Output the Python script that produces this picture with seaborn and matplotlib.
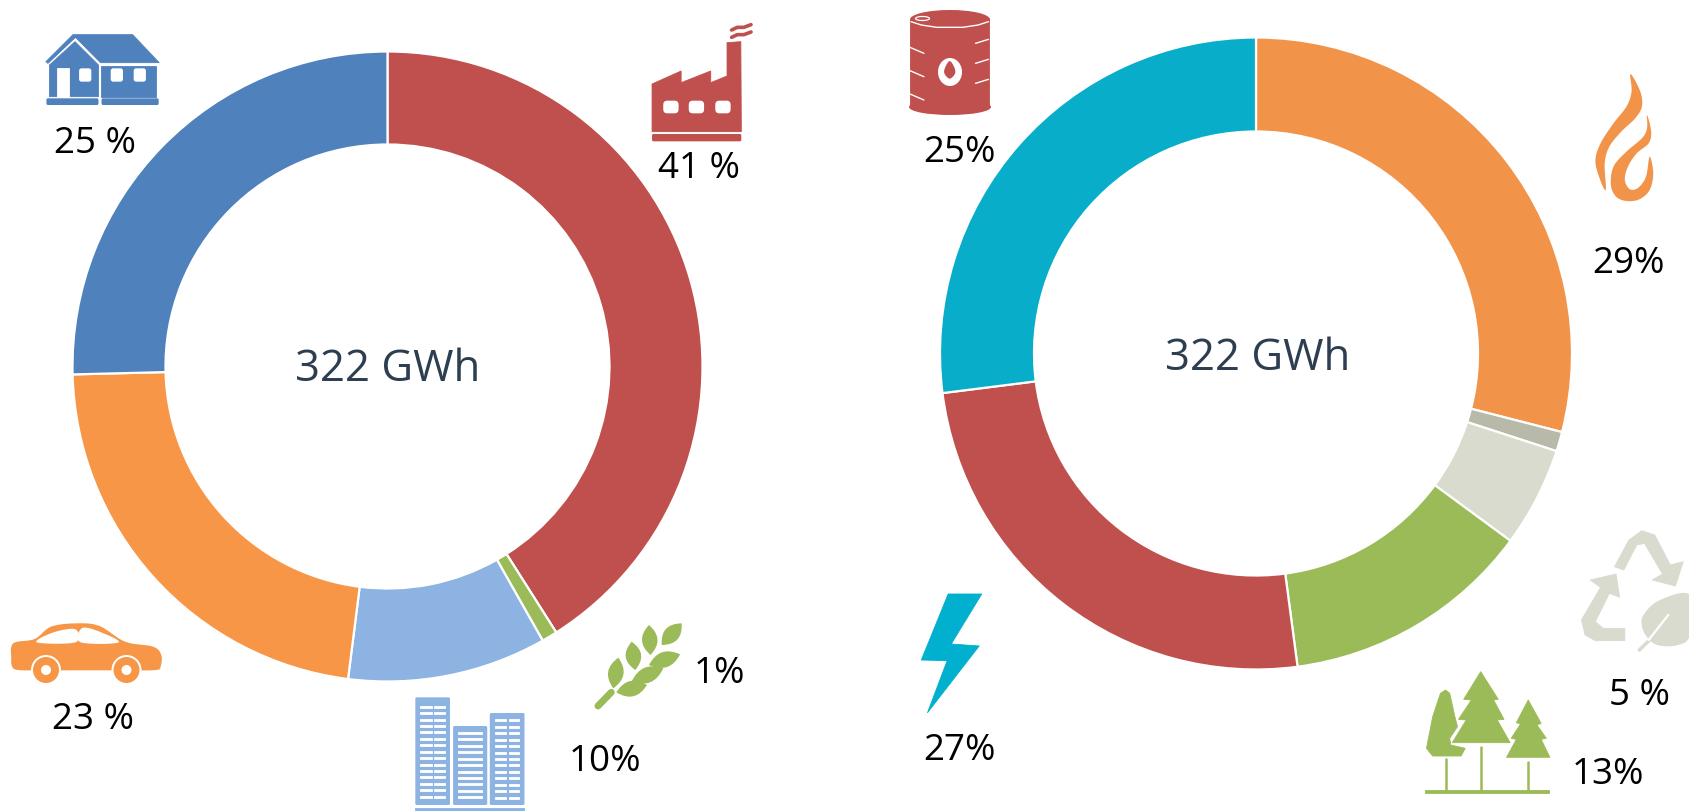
import numpy as np
import seaborn as sns
import matplotlib.pyplot as plt
from matplotlib.patches import Polygon, Circle, Ellipse, PathPatch, FancyBboxPatch
from matplotlib.path import Path

# demand side
demand_values = [41, 0.8, 10.2, 22.6, 25.4]
demand_colors = ['#C0504D', '#9BBB59', '#8DB3E2', '#F79646', '#4F81BD']
demand_labels = ['41 %', '1%', '10%', '23 %', '25 %']
# supply side
supply_values = [29, 1, 5.1, 12.8, 25.1, 27]
supply_colors = ['#F2934A', '#B9B9A9', '#D9DBCE', '#9BBB59', '#C0504D', '#07ADC9']
supply_labels = ['29%', '5 %', '13%', '27%', '25%']
total_label = '322 GWh'

W, H = 1690, 811
BLUE, RED, ORANGE, LBLUE, GREEN = '#4F81BD', '#C0504D', '#F79646', '#8DB3E2', '#9BBB59'
TEAL, SAND, FLAME = '#00B0CE', '#D9DBCE', '#F2934A'

sns.set_theme(style='white')
plt.rcParams['font.family'] = ['Open Sans', 'DejaVu Sans']
fig = plt.figure(figsize=(W / 100, H / 100), dpi=100)


def donut(values, colors, cx, cy, r, r_in):
    ax = fig.add_axes([(cx - r) / W, 1 - (cy + r) / H, 2 * r / W, 2 * r / H])
    ax.pie(values, colors=colors, startangle=90, counterclock=False, radius=1,
           wedgeprops=dict(width=1 - r_in / r, edgecolor='white', linewidth=1.6))
    ax.set_xlim(-1, 1)
    ax.set_ylim(-1, 1)
    ax.axis('off')


donut(demand_values, demand_colors, 387.5, 366.5, 315, 222)
donut(supply_values, supply_colors, 1256, 353.5, 316, 222)

# overlay in pixel coords for icons and labels
ov = fig.add_axes([0, 0, 1, 1])
ov.set_xlim(0, W)
ov.set_ylim(H, 0)
ov.axis('off')
ov.patch.set_alpha(0)

TL = (0, 0, 1.96)
BL = (0, 560, 1.96)
TR = (880, 0, 1.936)
BR = (880, 500, 1.936)


def px(pts, fr):
    return [(fr[0] + x / fr[2], fr[1] + y / 3) for x, y in pts]


def poly(pts, fr, color):
    ov.add_patch(Polygon(px(pts, fr), closed=True, fc=color, ec=color, lw=0.6, joinstyle='round'))


def box(x0, y0, x1, y1, fr, color):
    poly([(x0, y0), (x1, y0), (x1, y1), (x0, y1)], fr, color)


def rbox(x0, y0, x1, y1, fr, color, rad=2.5):
    (a, b), (c, d) = px([(x0, y0), (x1, y1)], fr)
    ov.add_patch(FancyBboxPatch((a, b), c - a, d - b, boxstyle=f'round,pad=0,rounding_size={rad}',
                                fc=color, ec='none'))


def smooth(pts, fr, color):
    # closed catmull-rom through the outline points, for the organic icons
    p = np.array(px(pts, fr))
    out = []
    n = len(p)
    for i in range(n):
        p0, p1, p2, p3 = p[i - 1], p[i], p[(i + 1) % n], p[(i + 2) % n]
        for t in np.linspace(0, 1, 8, endpoint=False):
            out.append(0.5 * (2 * p1 + (p2 - p0) * t + (2 * p0 - 5 * p1 + 4 * p2 - p3) * t ** 2
                              + (3 * p1 - p0 - 3 * p2 + p3) * t ** 3))
    ov.add_patch(Polygon(out, closed=True, fc=color, ec='none'))


def stroke(pts, fr, color, lw):
    p = np.array(px(pts, fr))
    ov.plot(p[:, 0], p[:, 1], color=color, lw=lw, solid_capstyle='round')


def leaf(a, b, fr, color, w=9):
    (ax_, ay), (bx, by) = px([a, b], fr)
    d = np.array([bx - ax_, by - ay])
    n = np.array([-d[1], d[0]]) / np.hypot(*d) * w * 1.3
    m = np.array([(ax_ + bx) / 2, (ay + by) / 2])
    verts = [(ax_, ay), tuple(m + n), (bx, by), tuple(m - n), (ax_, ay)]
    codes = [Path.MOVETO, Path.CURVE3, Path.CURVE3, Path.CURVE3, Path.CURVE3]
    ov.add_patch(PathPatch(Path(verts, codes), fc=color, ec='none'))


# house
poly([(90, 185), (143, 104), (260, 104), (312, 188), (197, 188), (148, 112), (94, 190)], TL, BLUE)
poly([(97, 290), (97, 195), (147, 125), (193, 195), (193, 290)], TL, BLUE)
box(198, 197, 306, 290, TL, BLUE)
box(112, 203, 135, 290, TL, 'white')
for x0 in (155, 217, 262):
    rbox(x0, 205, x0 + 24, 245, TL, 'white')
rbox(91, 295, 193, 315, TL, BLUE, 1.5)
rbox(199, 295, 311, 315, TL, BLUE, 1.5)

# factory
poly([(1278, 395), (1278, 252), (1335, 213), (1335, 248), (1393, 213), (1393, 248), (1425, 228),
      (1425, 128), (1452, 125), (1453, 395)], TL, RED)
for x0 in (1300, 1350, 1402):
    rbox(x0, 302, x0 + 30, 340, TL, 'white', 4)
rbox(1278, 402, 1453, 424, TL, RED, 1.5)
for y0 in (74, 96):
    stroke([(1434, y0 + 16), (1445, y0 + 8), (1458, y0 + 8), (1472, y0)], TL, RED, 2.6)

# car
smooth([(22, 295), (26, 250), (68, 237), (100, 200), (150, 190), (195, 198), (245, 245), (300, 260),
        (316, 285), (315, 318), (306, 330), (250, 331), (170, 331), (80, 331), (35, 330), (24, 320)], BL, ORANGE)
smooth([(72, 247), (105, 217), (148, 208), (148, 247)], BL, 'white')
smooth([(158, 247), (160, 205), (190, 212), (233, 247)], BL, 'white')
for wx in (46, 126.5):
    ov.add_patch(Circle((wx, 670), 15, fc='white', ec='none'))
    ov.add_patch(Circle((wx, 670), 13, fc=ORANGE, ec='none'))
    ov.add_patch(Circle((wx, 670), 5, fc='white', ec='none'))

# wheat
stroke([(1172, 438), (1198, 397)], BL, GREEN, 5)
for a, b in [((1202, 385), (1212, 293)), ((1245, 330), (1238, 245)), ((1275, 285), (1272, 195)),
             ((1297, 255), (1336, 190)), ((1272, 315), (1333, 283)), ((1238, 365), (1300, 325)),
             ((1208, 397), (1268, 375))]:
    leaf(a, b, BL, GREEN, w=12)

# buildings
rbox(814, 412, 882, 735, BL, LBLUE, 1.5)
rbox(888, 498, 955, 735, BL, LBLUE, 1.5)
rbox(960, 459, 1028, 735, BL, LBLUE, 1.5)
box(814, 743, 1028, 760, BL, LBLUE)
for y in np.arange(437, 715, 19.3):
    box(824, y, 846, y + 6, BL, 'white')
    box(851, y, 872, y + 6, BL, 'white')
for y in np.arange(478, 715, 19.3):
    box(970, y, 992, y + 6, BL, 'white')
    box(997, y, 1018, y + 6, BL, 'white')
for y in np.arange(516, 715, 19.3):
    box(898, y, 945, y + 6, BL, 'white')

# barrel
box(58, 58, 211, 320, TR, RED)
ov.add_patch(Ellipse((950, 107), 82, 16, fc=RED, ec='none'))
ov.add_patch(Ellipse((950, 19.5), 80, 19, fc=RED, ec='none'))
stroke([(60, 65), (80, 75), (110, 82), (160, 82), (190, 75), (210, 65)], TR, 'white', 1.0)
ov.add_patch(Ellipse((922.5, 18.5), 14, 4, fc='none', ec='white', lw=0.9))
for y in (142, 212, 282):
    stroke([(58, y), (85, y + 18)], TR, 'white', 1.0)
for y in (130, 190, 250):
    stroke([(185, y), (210, y - 12)], TR, 'white', 1.0)
ov.add_patch(Ellipse((950, 72), 24, 28, fc='white', ec='none'))
smooth([(135, 183), (146, 215), (135, 236), (124, 215)], TR, RED)

# flame
smooth([(1453, 222), (1472, 275), (1475, 320), (1462, 355), (1435, 395), (1412, 440), (1403, 490),
        (1405, 570), (1392, 530), (1385, 480), (1395, 430), (1420, 370), (1445, 320), (1455, 275)], TR, FLAME)
smooth([(1485, 345), (1493, 395), (1488, 430), (1465, 460), (1448, 500), (1442, 540), (1452, 568),
        (1468, 563), (1483, 530), (1490, 470), (1497, 520), (1490, 570), (1470, 598), (1445, 603),
        (1425, 590), (1415, 555), (1420, 500), (1445, 455), (1475, 415), (1485, 385)], TR, FLAME)

# lightning
poly([(132, 282), (197, 282), (138, 432), (192, 438), (92, 638), (130, 482), (80, 480)], BR, TEAL)

# recycle
poly([(1422, 200), (1450, 120), (1475, 92), (1500, 105), (1530, 195), (1555, 185), (1540, 258),
      (1495, 240), (1515, 222), (1480, 130), (1465, 135), (1440, 210)], BR, SAND)
poly([(1375, 240), (1425, 222), (1432, 292), (1412, 280), (1385, 365), (1400, 385), (1442, 385),
      (1442, 422), (1385, 422), (1365, 405), (1358, 360), (1395, 262)], BR, SAND)
smooth([(1478, 345), (1510, 300), (1568, 285), (1568, 405), (1545, 435), (1510, 437), (1490, 420),
        (1476, 385)], BR, SAND)
stroke([(1470, 450), (1490, 420)], BR, SAND, 2.5)
stroke([(1488, 420), (1526, 345)], BR, 'white', 1.6)

# trees
poly([(1163, 515), (1197, 598), (1188, 600), (1208, 658), (1195, 660), (1220, 728), (1108, 728),
      (1135, 660), (1120, 658), (1145, 600), (1130, 598)], BR, GREEN)
poly([(1255, 600), (1280, 670), (1272, 675), (1290, 715), (1280, 718), (1297, 772), (1213, 772),
      (1232, 718), (1222, 715), (1240, 672), (1232, 668)], BR, GREEN)
poly([(1095, 570), (1103, 580), (1113, 650), (1118, 680), (1103, 715), (1105, 735), (1133, 745),
      (1125, 768), (1070, 768), (1058, 745), (1070, 650), (1085, 580)], BR, GREEN)
for x0, y0 in [(1096, 778), (1164, 742), (1255, 785)]:
    stroke([(x0, y0), (x0, 872)], BR, GREEN, 1.8)
box(1055, 870, 1296, 880, BR, GREEN)

# labels (positions in full-size pixels)
demand_pos = [(699, 169), (719, 674), (605, 762), (93, 720), (95, 144)]
supply_pos = [(1629, 264), (1640, 696), (1608, 775), (960, 751), (960, 153)]
for s, (x, y) in zip(demand_labels + supply_labels, demand_pos + supply_pos):
    ov.text(x, y, s, ha='center', va='center', fontsize=26.5, color='black')
ov.text(387.5, 370, total_label, ha='center', va='center', fontsize=31.5, color='#2C3E50')
ov.text(1258, 359, total_label, ha='center', va='center', fontsize=31.5, color='#2C3E50')

fig.savefig('out.png', dpi=100)
